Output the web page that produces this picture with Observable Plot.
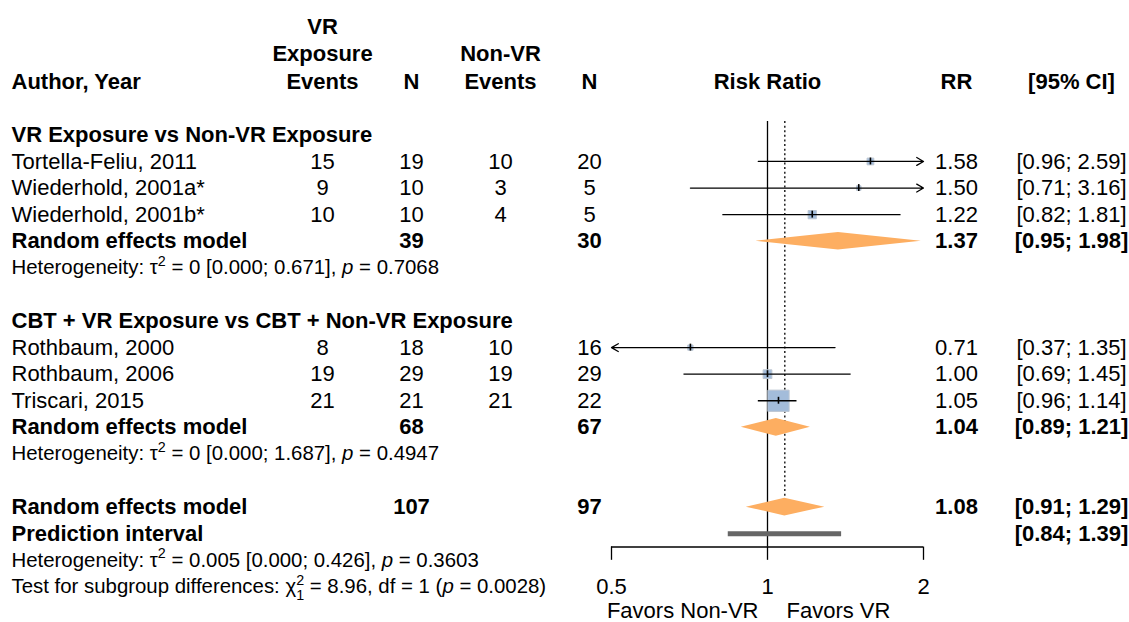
<!DOCTYPE html>
<html>
<head>
<meta charset="utf-8">
<script src="https://cdn.jsdelivr.net/npm/d3@7"></script>
<script src="https://cdn.jsdelivr.net/npm/@observablehq/plot@0.6"></script>
<style>
  body { margin: 0; background: #fff; }
  #chart { display: flex; width: 1129px; height: 622px; overflow: hidden; background: #fff; }
  #chart svg { flex: none; }
</style>
</head>
<body>
<div id="chart"></div>
<script>
// ---- Data -------------------------------------------------------------
const groups = [
  "VR Exposure vs Non-VR Exposure",
  "CBT + VR Exposure vs CBT + Non-VR Exposure"
];
const studies = [
  "Tortella-Feliu, 2011",
  "Wiederhold, 2001a*",
  "Wiederhold, 2001b*",
  "Rothbaum, 2000",
  "Rothbaum, 2006",
  "Triscari, 2015"
];
const studyGroup = [0, 0, 0, 1, 1, 1];
const vrEvents = [15, 9, 10, 8, 19, 21];
const vrN = [19, 10, 10, 18, 29, 21];
const nonVrEvents = [10, 3, 4, 10, 19, 21];
const nonVrN = [20, 5, 5, 16, 29, 22];
const riskRatio = [1.58, 1.50, 1.22, 0.71, 1.00, 1.05];
const ciLower = [0.96, 0.71, 0.82, 0.37, 0.69, 0.96];
const ciUpper = [2.59, 3.16, 1.81, 1.35, 1.45, 1.14];
const weightPct = [6.6, 3.0, 9.9, 4.0, 11.1, 65.5];

// Random effects model per subgroup
const groupVrN = [39, 68];
const groupNonVrN = [30, 67];
const groupRR = [1.37, 1.04];
const groupLower = [0.95, 0.89];
const groupUpper = [1.98, 1.21];
const groupHeterogeneity = [
  "Heterogeneity: τ^{2} = 0 [0.000; 0.671], *p* = 0.7068",
  "Heterogeneity: τ^{2} = 0 [0.000; 1.687], *p* = 0.4947"
];

// Overall random effects model
const overallVrN = 107;
const overallNonVrN = 97;
const overallRR = 1.08;
const overallLower = 0.91;
const overallUpper = 1.29;
const predictionLower = 0.84;
const predictionUpper = 1.39;
const overallHeterogeneity = "Heterogeneity: τ^{2} = 0.005 [0.000; 0.426], *p* = 0.3603";
const subgroupTest = "Test for subgroup differences: χ^{2}_{1} = 8.96, df = 1 (*p* = 0.0028)";

// Axis and column headings
const axisTicks = [0.5, 1, 2];
const nullValue = 1;
const favorsLeft = "Favors Non-VR";
const favorsRight = "Favors VR";
const studyHeader = "Author, Year";
const tableColumns = ["vrEvents", "vrN", "nonVrEvents", "nonVrN"];
const tableHeaders = ["VR\nExposure\nEvents", "N", "Non-VR\nEvents", "N"];
const statColumns = ["rr", "ci"];
const statHeaders = ["RR", "[95% CI]"];
const plotHeader = "Risk Ratio";

// ---- Row layout (top to bottom) ----------------------------------------
const rows = [];
let row = -1;
groups.forEach((title, g) => {
  rows.push({row: row++, kind: "heading", label: title});
  studies.forEach((name, i) => {
    if (studyGroup[i] !== g) return;
    rows.push({
      row: row++, kind: "study", label: name,
      vrEvents: vrEvents[i], vrN: vrN[i], nonVrEvents: nonVrEvents[i], nonVrN: nonVrN[i],
      rr: riskRatio[i], lo: ciLower[i], hi: ciUpper[i], weight: weightPct[i]
    });
  });
  rows.push({
    row: row++, kind: "summary", label: "Random effects model",
    vrN: groupVrN[g], nonVrN: groupNonVrN[g],
    rr: groupRR[g], lo: groupLower[g], hi: groupUpper[g]
  });
  rows.push({row: row++, kind: "note", label: groupHeterogeneity[g]});
  row++; // spacer
});
const overallRow = row;
rows.push({
  row: row++, kind: "summary", label: "Random effects model",
  vrN: overallVrN, nonVrN: overallNonVrN,
  rr: overallRR, lo: overallLower, hi: overallUpper
});
const predictionRow = row;
rows.push({row: row++, kind: "prediction", label: "Prediction interval", lo: predictionLower, hi: predictionUpper});
rows.push({row: row++, kind: "note", label: overallHeterogeneity});
rows.push({row: row++, kind: "note", label: subgroupTest});

const headerRow = -3;
const topRow = -1.5;
const axisRow = predictionRow + 0.5;
const tickLabelRow = axisRow + 1.5;
const favorsRow = axisRow + 2.5;
const diamondHalf = 0.33;

const FONT = "'Liberation Sans', Arial, Helvetica, sans-serif";
const H = 622;
const yScale = {domain: [headerRow - 2, favorsRow], reverse: true, axis: null};
const common = {height: H, marginTop: 28, marginBottom: 9, y: yScale,
  style: {fontFamily: FONT, background: "transparent", color: "black", overflow: "visible"}};
const BIG = 22, SMALL = 20.4;
const fmt = (v) => v.toFixed(2);

// ---- Left table ----------------------------------------------------------
const cells = rows.flatMap(d => tableColumns.filter(c => d[c] != null)
  .map(c => ({row: d.row, col: c, value: d[c], bold: d.kind !== "study"})));

const left = Plot.plot({
  ...common,
  width: 600, marginLeft: 11, marginRight: 0,
  x: {type: "point", domain: tableColumns, range: [321, 589], padding: 0, axis: null},
  marks: [
    Plot.text([studyHeader], {frameAnchor: "left", y: () => headerRow, text: d => d,
      lineAnchor: "bottom", dy: 7, fontSize: BIG, fontWeight: "bold"}),
    Plot.text(tableColumns, {x: d => d, y: () => headerRow, text: (d, i) => tableHeaders[i],
      lineAnchor: "bottom", dy: 7, lineHeight: 1.25, fontSize: BIG, fontWeight: "bold"}),
    Plot.text(rows.filter(d => d.kind === "heading" || d.kind === "summary" || d.kind === "prediction"),
      {frameAnchor: "left", y: "row", text: "label", fontSize: BIG, fontWeight: "bold"}),
    Plot.text(rows.filter(d => d.kind === "study"),
      {frameAnchor: "left", y: "row", text: "label", fontSize: BIG}),
    Plot.text(rows.filter(d => d.kind === "note"),
      {frameAnchor: "left", y: "row", text: "label", fontSize: SMALL}),
    Plot.text(cells.filter(d => !d.bold), {x: "col", y: "row", text: "value", fontSize: BIG}),
    Plot.text(cells.filter(d => d.bold), {x: "col", y: "row", text: "value", fontSize: BIG, fontWeight: "bold"})
  ]
});

// ---- Forest plot ---------------------------------------------------------
const [xMin, xMax] = d3.extent(axisTicks);
const studyRows = rows.filter(d => d.kind === "study");
const summaryRows = rows.filter(d => d.kind === "summary");
const predictionRows = rows.filter(d => d.kind === "prediction");
const segments = studyRows.map(d => ({
  row: d.row, from: Math.max(d.lo, xMin), to: Math.min(d.hi, xMax),
  cutLo: d.lo < xMin, cutHi: d.hi > xMax
}));
const diamondPoints = summaryRows.flatMap(d => [
  {id: d.row, y: d.row - diamondHalf, x1: d.rr, x2: d.rr},
  {id: d.row, y: d.row, x1: d.lo, x2: d.hi},
  {id: d.row, y: d.row + diamondHalf, x1: d.rr, x2: d.rr}
]);
const SW = 1.3;

const forest = Plot.plot({
  ...common,
  width: 340, marginLeft: 11, marginRight: 17,
  x: {type: "log", domain: [xMin, xMax], axis: null},
  r: {type: "sqrt", domain: [0, d3.max(weightPct)], range: [0, 12]},
  marks: [
    Plot.text([plotHeader], {x: () => nullValue, y: () => headerRow, text: d => d,
      lineAnchor: "bottom", dy: 7, fontSize: BIG, fontWeight: "bold"}),
    // reference line at no effect and dotted line at the overall estimate
    Plot.ruleX([nullValue], {x: d => d, y1: topRow, y2: axisRow, stroke: "black", strokeWidth: SW}),
    Plot.ruleX([overallRR], {x: d => d, y1: topRow, y2: overallRow - diamondHalf,
      stroke: "black", strokeWidth: SW, strokeDasharray: "2,2.6"}),
    // study weights
    Plot.dot(studyRows, {x: "rr", y: "row", r: "weight", symbol: "square",
      fill: "#a3bcda", stroke: "#bcc6d2", strokeWidth: 1}),
    // confidence intervals
    Plot.ruleY(segments.filter(d => !d.cutLo && !d.cutHi),
      {y: "row", x1: "from", x2: "to", stroke: "black", strokeWidth: SW}),
    Plot.arrow(segments.filter(d => d.cutHi),
      {x1: "from", x2: "to", y1: "row", y2: "row", stroke: "black", strokeWidth: SW, headLength: 9}),
    Plot.arrow(segments.filter(d => d.cutLo),
      {x1: "to", x2: "from", y1: "row", y2: "row", stroke: "black", strokeWidth: SW, headLength: 9}),
    Plot.ruleX(studyRows, {x: "rr", y1: d => d.row - 0.13, y2: d => d.row + 0.13,
      stroke: "black", strokeWidth: 1.6}),
    // pooled estimates
    Plot.areaX(diamondPoints, {y: "y", x1: "x1", x2: "x2", z: "id", fill: "#fdae61", curve: "linear"}),
    Plot.ruleY(predictionRows, {y: "row", x1: "lo", x2: "hi", stroke: "#666666", strokeWidth: 5}),
    // axis
    Plot.ruleY([axisRow], {y: d => d, x1: xMin, x2: xMax, stroke: "black", strokeWidth: SW}),
    Plot.ruleX(axisTicks, {x: d => d, y1: axisRow, y2: axisRow + 0.5, stroke: "black", strokeWidth: SW}),
    Plot.text(axisTicks, {x: d => d, y: () => tickLabelRow, text: d => String(d), fontSize: BIG}),
    Plot.text([favorsLeft], {x: () => nullValue, y: () => favorsRow, text: d => d,
      textAnchor: "end", dx: -9, dy: -3, fontSize: BIG}),
    Plot.text([favorsRight], {x: () => nullValue, y: () => favorsRow, text: d => d,
      textAnchor: "start", dx: 19, dy: -3, fontSize: BIG})
  ]
});

// ---- Right table ---------------------------------------------------------
const stats = rows.filter(d => d.lo != null).flatMap(d => [
  d.kind === "prediction" ? null : {row: d.row, col: "rr", value: fmt(d.rr), bold: d.kind !== "study"},
  {row: d.row, col: "ci", value: `[${fmt(d.lo)}; ${fmt(d.hi)}]`, bold: d.kind !== "study"}
].filter(Boolean));

const right = Plot.plot({
  ...common,
  width: 189, marginLeft: 0, marginRight: 0,
  x: {type: "point", domain: statColumns, range: [16, 131], padding: 0, axis: null},
  marks: [
    Plot.text(statColumns, {x: d => d, y: () => headerRow, text: (d, i) => statHeaders[i],
      lineAnchor: "bottom", dy: 7, fontSize: BIG, fontWeight: "bold"}),
    Plot.text(stats.filter(d => !d.bold), {x: "col", y: "row", text: "value", fontSize: BIG}),
    Plot.text(stats.filter(d => d.bold), {x: "col", y: "row", text: "value", fontSize: BIG, fontWeight: "bold"})
  ]
});

const chart = document.getElementById("chart");
chart.append(left, forest, right);

// ---- Superscripts, subscripts and italics in the statistics lines --------
const SVGNS = "http://www.w3.org/2000/svg";
function applyRichText(root) {
  root.querySelectorAll("text").forEach(text => {
    const src = text.textContent;
    if (!/\^\{|_\{|\*[^*\s]+\*/.test(src)) return;
    const size = parseFloat(getComputedStyle(text).fontSize);
    const small = (size * 0.7).toFixed(1);
    text.textContent = "";
    let offset = 0, lastSup = null;
    for (const part of src.split(/(\^\{[^}]*\}|_\{[^}]*\}|\*[^*\s]+\*)/)) {
      if (!part) continue;
      const span = document.createElementNS(SVGNS, "tspan");
      if (part.startsWith("^{")) {
        span.textContent = part.slice(2, -1);
        span.setAttribute("font-size", small);
        span.setAttribute("dy", -0.42 * size - offset);
        offset = -0.42 * size;
        text.appendChild(span);
        lastSup = span;
      } else if (part.startsWith("_{")) {
        span.textContent = part.slice(2, -1);
        span.setAttribute("font-size", small);
        text.appendChild(span);
        if (lastSup) span.setAttribute("dx", -lastSup.getComputedTextLength());
        span.setAttribute("dy", 0.3 * size - offset);
        offset = 0.3 * size;
      } else {
        const italic = part.startsWith("*") && part.endsWith("*") && part.length > 2;
        span.textContent = italic ? part.slice(1, -1) : part;
        if (italic) span.setAttribute("font-style", "italic");
        if (offset) span.setAttribute("dy", -offset);
        offset = 0;
        text.appendChild(span);
      }
    }
  });
}
applyRichText(left);
</script>
</body>
</html>
